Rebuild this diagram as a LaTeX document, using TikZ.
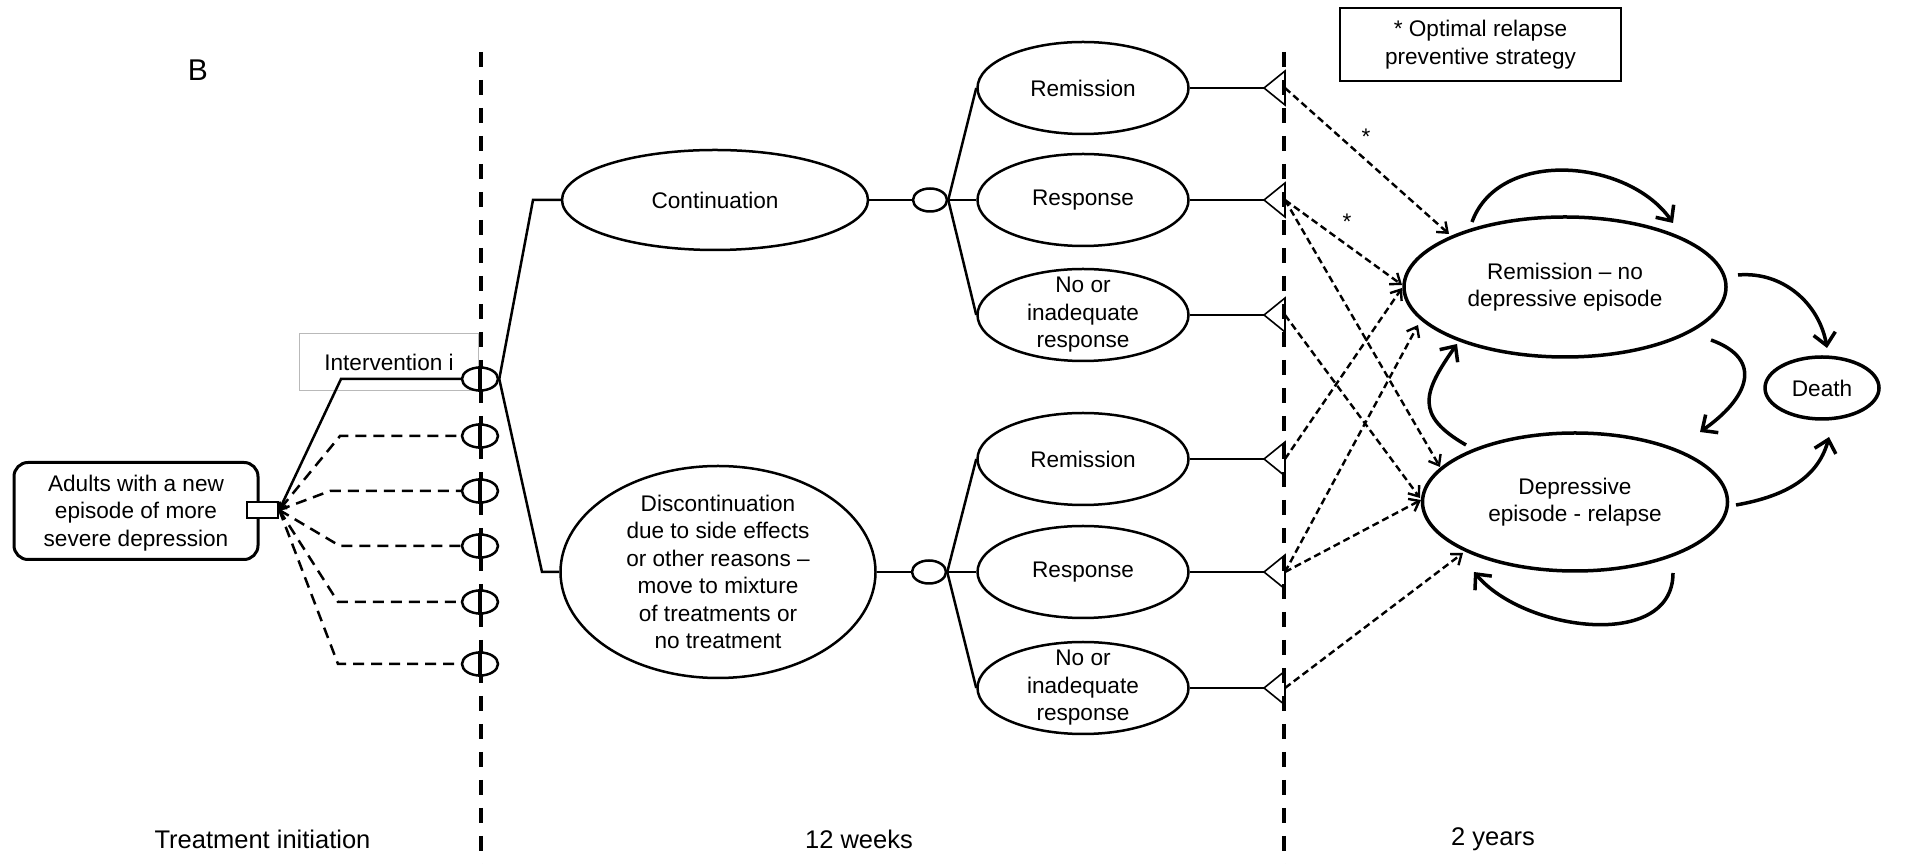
\documentclass[tikz,border=0pt]{standalone}
\usepackage{fontspec}
\setmainfont{Liberation Sans}
\usetikzlibrary{arrows.meta,shapes.geometric,calc}
\newcommand\txtsize{\fontsize{22.6}{27.5}\selectfont}
\newcommand\timesize{\fontsize{25.5}{30}\selectfont}
\begin{document}
\begin{tikzpicture}[x=1pt,y=1pt,
  every node/.style={font=\txtsize, align=center, inner sep=0pt},
  timelabel/.style={font=\timesize},
  ell/.style={ellipse, draw, line width=2.5pt, fill=white},
  outc/.style={ell, minimum width=211pt, minimum height=92pt},
  stateE/.style={ellipse, draw, line width=3.5pt, fill=white},
  chance/.style={ellipse, draw, line width=2.5pt, minimum width=34pt, minimum height=23pt, fill=white},
  link/.style={line width=2.5pt},
  fanD/.style={line width=2.5pt, dash pattern=on 11pt off 7pt},
  vdash/.style={line width=3.5pt, dash pattern=on 15pt off 13pt},
  tri/.style={line width=1.6pt, line join=miter},
  trans/.style={line width=2.4pt, dash pattern=on 7pt off 4pt, -{Straight Barb[length=9pt,width=14pt]}},
  statearr/.style={line width=3.5pt, -{Straight Barb[length=12pt,width=22pt]}}
]
\useasboundingbox (0,0) rectangle (1913,864);

% time dividers
\draw[vdash] (481,812) -- (481,0);
\draw[vdash] (1284,812) -- (1284,0);

% panel letter
\node[font=\fontsize{30}{30}\selectfont] (lab) at (198,794) {B};

% start box
\node[draw, line width=3pt, rounded corners=14pt, minimum width=244pt, minimum height=97pt] (adults) at (136,353) {};
\node (adultst) at (136,351) {Adults with a new\\episode of more\\severe depression};
\node[draw, line width=2.5pt, fill=white, minimum width=31pt, minimum height=16pt] (sq) at (262.5,354) {};

% intervention label box
\node[draw=gray!55, line width=1pt, minimum width=179pt, minimum height=57pt] (ibox) at (388.5,501.5) {};
\node (itxt) at (389,502) {Intervention i};

% fan of interventions
\draw[link, {Straight Barb[length=5pt,width=10pt]}-] (sq.east) -- (341,485) -- (480,485);
\draw[fanD, {Straight Barb[length=5pt,width=10pt]}-] (sq.east) -- (340,428) -- (480,428);
\draw[fanD] (sq.east) -- (330,373) -- (480,373);
\draw[fanD] (sq.east) -- (340,318) -- (480,318);
\draw[fanD] (sq.east) -- (338,262) -- (480,262);
\draw[fanD] (sq.east) -- (338,200) -- (480,200);
\foreach \n/\yy in {1/485,2/428,3/373,4/318,5/262,6/200}{
  \node[chance, minimum width=36pt] (c\n) at (480,\yy) {};
  \draw[line width=3.2pt] (c\n.north) -- (c\n.south);
}

% continuation / discontinuation
\node[ell, minimum width=306pt, minimum height=100pt] (cont) at (715,664) {};
\node (contt) at (715,664) {Continuation};
\node[ell, minimum width=315pt, minimum height=212pt] (disc) at (718,292) {};
\node (disct) at (718,292) {Discontinuation\\due to side effects\\or other reasons --\\move to mixture\\of treatments or\\no treatment};
\draw[link] (c1.east) -- (533,664) -- (cont.west);
\draw[link] (c1.east) -- (542,292) -- (disc.west);

\node[chance] (s1) at (930,664) {};
\node[chance] (s2) at (929,292) {};
\draw[link] (cont.east) -- (s1.west);
\draw[link] (disc.east) -- (s2.west);

% outcomes
\node[outc] (o1) at (1083,776) {}; \node (o1t) at (o1) {Remission};
\node[outc] (o2) at (1083,664) {}; \node (o2t) at (o2) {Response};
\node[outc] (o3) at (1083,549) {}; \node (o3t) at (o3) {No or\\inadequate\\response};
\node[outc] (o4) at (1083,405) {}; \node (o4t) at (o4) {Remission};
\node[outc] (o5) at (1083,292) {}; \node (o5t) at (o5) {Response};
\node[outc] (o6) at (1083,176) {}; \node (o6t) at (o6) {No or\\inadequate\\response};
\foreach \o in {1,2,3}{ \draw[link] (s1.east) -- (o\o.west); }
\foreach \o in {4,5,6}{ \draw[link] (s2.east) -- (o\o.west); }

% terminal triangles
\foreach \n/\yy in {1/776,2/664,3/549,4/405,5/292,6/176}{
  \coordinate (t\n) at (1285,\yy);
  \coordinate (ta\n) at (1264,\yy);
  \draw[tri] (1285,\yy+17) -- (ta\n) -- (1285,\yy-17) -- cycle;
  \draw[link] (o\n.east) -- (ta\n);
}

% legend
\node[draw, line width=2pt, minimum width=281pt, minimum height=73pt] (legend) at (1480.5,819.5) {};
\node (legendt) at (1480.5,819.5) {* Optimal relapse\\preventive strategy};

% Markov states
\node[stateE, minimum width=322pt, minimum height=140pt] (rem) at (1565,577) {};
\node (remt) at (1565,577) {Remission -- no\\depressive episode};
\node[stateE, minimum width=305pt, minimum height=138pt] (dep) at (1575,362) {};
\node (dept) at (1575,362) {Depressive\\episode - relapse};
\node[stateE, minimum width=114pt, minimum height=62pt] (death) at (1822,476) {};
\node (deatht) at (1822,476) {Death};

% transitions between states
\draw[statearr] ($(rem)+(-93,65)$) to[out=70,in=125] ($(rem)+(108,64)$);
\draw[statearr] ($(rem)+(173,12)$) to[out=5,in=100] ($(death)+(5,40)$);
\draw[statearr] ($(rem)+(146,-53)$) to[out=-20,in=35,looseness=1.6] ($(dep)+(125,70)$);
\draw[statearr] ($(dep)+(-109,57)$) to[out=150,in=235,looseness=1.5] ($(rem)+(-108,-57)$);
\draw[statearr] ($(dep)+(161,-3)$) to[out=10,in=-105] ($(death)+(7,-49)$);
\draw[statearr] ($(dep)+(98,-71)$) to[out=-90,in=-50] ($(dep)+(-101,-70)$);

% entry transitions
\draw[trans] (t1) -- ($(rem)+(-116,53)$);
\draw[trans] (t2) -- ($(rem)+(-163,2)$);
\draw[trans] (t2) -- ($(dep)+(-135,35)$);
\draw[trans] (t3) -- ($(dep)+(-155,4)$);
\draw[trans] (t4) -- ($(rem)+(-163,-1)$);
\draw[trans] (t5) -- ($(rem)+(-147,-38)$);
\draw[trans] (t5) -- ($(dep)+(-154,2)$);
\draw[trans] (t6) -- ($(dep)+(-112,-51)$);
\node (st1) at (1366,727) {*};
\node (st2) at (1347,642) {*};

% time labels
\node[timelabel] (tl1) at (262.5,25) {Treatment initiation};
\node[timelabel] (tl2) at (859,25) {12 weeks};
\node[timelabel] (tl3) at (1493,25) {2 years};
\end{tikzpicture}
\end{document}
